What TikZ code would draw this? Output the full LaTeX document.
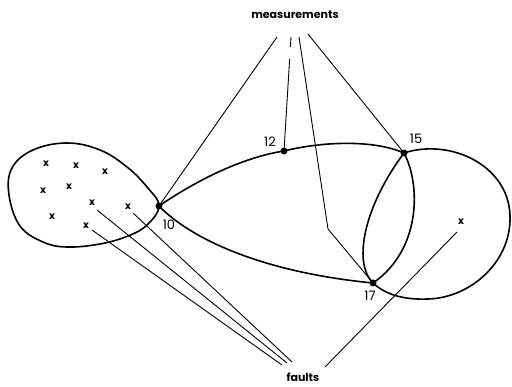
\documentclass[tikz,border=0pt]{standalone}
\usepackage{fontspec}
\setmainfont{Poppins}
\begin{document}
\begin{tikzpicture}[x=1pt,y=-1pt,
  dot/.style={circle,fill=black,inner sep=0pt,minimum size=7pt},
  curve/.style={line width=1.6pt},
  thin/.style={line width=0.9pt},
  lbl/.style={font=\fontsize{13}{13}\selectfont,inner sep=0pt},
  xm/.style={font=\bfseries\fontsize{10}{10}\selectfont,inner sep=0pt},
  word/.style={font=\bfseries\fontsize{11}{11}\selectfont,inner sep=0pt}]
\useasboundingbox (0,0) rectangle (512,387);
% main points
\node[dot] (n10) at (159,206) {};
\node[dot] (n12) at (284,151) {};
\node[dot] (n15) at (404,153) {};
\node[dot] (n17) at (373,283) {};
\node[lbl] (l10) at (169,225) {10};
\node[lbl] (l12) at (270,142) {12};
\node[lbl] (l15) at (416,139) {15};
\node[lbl] (l17) at (370,296) {17};
% words
\node[word] (meas) at (295,15) {measurements};
\node[word] (faults) at (303,377) {faults};
% crosses
\node[xm] (x1) at (46,164) {x};
\node[xm] (x2) at (76,166) {x};
\node[xm] (x3) at (105,172) {x};
\node[xm] (x4) at (43,191) {x};
\node[xm] (x5) at (69,187) {x};
\node[xm] (x6) at (52,217) {x};
\node[xm] (x7) at (92,203) {x};
\node[xm] (x8) at (128,207) {x};
\node[xm] (x9) at (86,226) {x};
\node[xm] (x10) at (461,222) {x};
% left blob
\draw[curve] plot[smooth cycle, tension=0.65] coordinates {(159,206) (147,225) (128,236) (100,244) (67,247) (43,242) (20,226) (9,195) (12,168) (33,150) (67,143) (100,150) (127,167) (147,187)};
% arcs
\draw[curve] (n10.center) .. controls (200,178) and (245,157) .. (n12.center)
  .. controls (320,142) and (372,139) .. (n15.center);
\draw[curve] (n10.center) .. controls (190,238) and (260,272) .. (n17.center);
\draw[curve] (n15.center) .. controls (450,138) and (508,165) .. (510,215)
  .. controls (512,262) and (470,298) .. (428,299)
  .. controls (402,300) and (385,294) .. (n17.center);
\draw[curve] (n17.center) .. controls (352,262) and (365,205) .. (n15.center);
\draw[curve] (n15.center) .. controls (421,185) and (421,250) .. (n17.center);
% measurement lines
\coordinate (m1) at (277,37);
\coordinate (m2) at (291,37);
\coordinate (m3) at (299,37);
\coordinate (m4) at (308,34);
\coordinate (bend) at (328,229);
\draw[thin] (m1) -- (n10.center);
\draw[thin,dash pattern=on 10pt off 12pt on 300pt] (m2) -- (n12.center);
\draw[thin] (m3) -- (bend) -- (n17.center);
\draw[thin] (m4) -- (n15.center);
% fault lines
\coordinate (f1) at (282,365);
\coordinate (f2) at (287,363);
\coordinate (f3) at (292,362);
\coordinate (f4) at (325,367);
\draw[thin] ([shift={(6,4)}]x9.center) -- (f1);
\draw[thin] ([shift={(5,7)}]x7.center) -- (f2);
\draw[thin] ([shift={(5,6)}]x8.center) -- (f3);
\draw[thin] (f4) -- ([shift={(-4,10)}]x10.center);
\end{tikzpicture}
\end{document}
